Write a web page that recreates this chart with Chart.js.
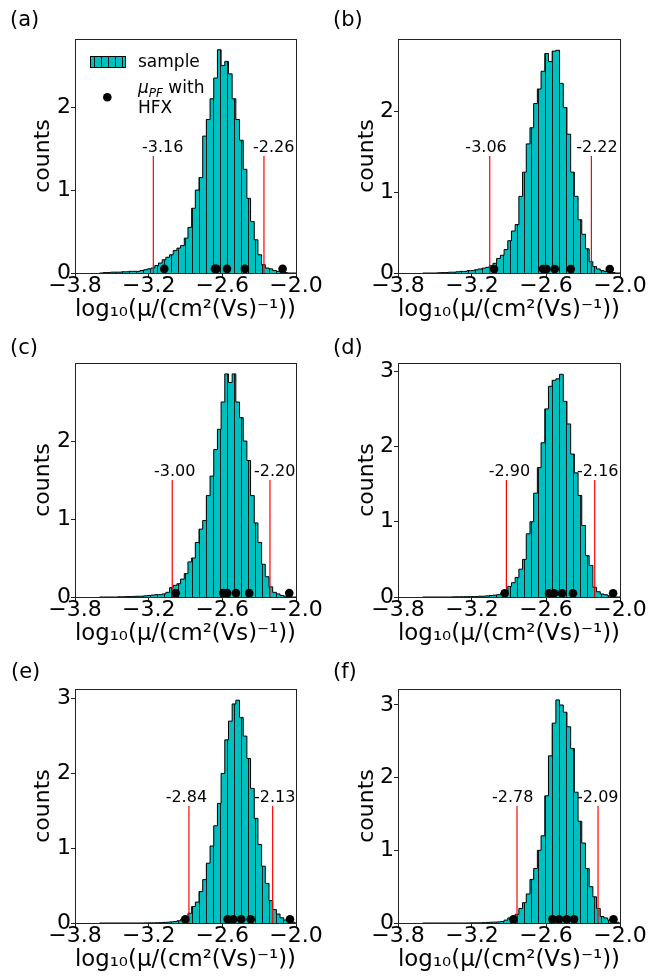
<!DOCTYPE html>
<html>
<head>
<meta charset="utf-8">
<script src="https://cdn.jsdelivr.net/npm/chart.js@4.4.0/dist/chart.umd.min.js"></script>
<style>
  body { margin: 0; background: #fff; }
  #page { position: relative; width: 649px; height: 977px; overflow: hidden; background: #fff; }
  #page canvas { position: absolute; }
  .tag { position: absolute; font-family: "DejaVu Sans"; font-size: 21px; line-height: 21px; color: #000; }
</style>
</head>
<body>
<div id="page"></div>
<script>
//left edges of the histogram bins (log10 mobility), the last value closes the last bin
var binEdges = [-3.60, -3.57, -3.54, -3.51, -3.48, -3.45, -3.42, -3.39, -3.36, -3.33,
                -3.30, -3.27, -3.24, -3.21, -3.18, -3.15, -3.12, -3.09, -3.06, -3.03,
                -3.00, -2.97, -2.94, -2.91, -2.88, -2.85, -2.82, -2.79, -2.76, -2.73,
                -2.70, -2.67, -2.64, -2.61, -2.58, -2.55, -2.52, -2.49, -2.46, -2.43,
                -2.40, -2.37, -2.34, -2.31, -2.28, -2.25, -2.22, -2.19, -2.16, -2.13,
                -2.10, -2.07, -2.04, -2.01, -1.98];

//histogram heights (density) for the six panels
var countsA = [0, .005, .005, .01, .01, .01, .015, .015, .02, .02,
               .02, .03, .04, .05, .06, .09, .12, .16, .19, .22,
               .27, .30, .33, .42, .55, .78, 1.00, 1.15, 1.65, 1.85,
               2.10, 2.35, 2.69, 2.50, 2.55, 2.40, 2.10, 1.85, 1.60, 1.25,
               .90, .62, .40, .22, .10, .06, .05, .03, .02, .01,
               .005, 0, 0, 0];
var countsB = [0, 0, 0, 0, .003, .005, .005, .01, .01, .015,
               .02, .02, .03, .03, .04, .05, .06, .07, .09, .12,
               .18, .22, .29, .40, .52, .60, .95, 1.25, 1.60, 1.80,
               2.10, 2.28, 2.50, 2.72, 2.62, 2.75, 2.76, 2.35, 2.05, 1.72,
               1.25, .95, .66, .48, .30, .14, .08, .05, .03, .02,
               .01, .005, 0, 0];
var countsC = [0, 0, 0, 0, 0, .003, .003, .005, .005, .008,
               .01, .01, .015, .02, .025, .03, .03, .04, .06, .12,
               .15, .17, .23, .30, .45, .50, .70, .87, .98, 1.30,
               1.55, 1.89, 2.15, 2.50, 2.86, 2.75, 2.86, 2.50, 2.30, 2.00,
               1.75, 1.30, .95, .70, .42, .26, .13, .06, .04, .02,
               .01, .005, 0, 0];
var countsD = [0, 0, 0, 0, 0, 0, 0, 0, .002, .003,
               .003, .004, .004, .005, .005, .01, .01, .015, .02, .025,
               .03, .045, .06, .14, .19, .26, .37, .50, .84, 1.00,
               1.38, 1.72, 2.05, 2.50, 2.80, 2.88, 2.90, 2.96, 2.60, 2.30,
               1.90, 1.65, 1.35, .95, .55, .42, .13, .07, .04, .03,
               .015, .005, 0, 0];
var countsE = [0, 0, 0, 0, 0, 0, 0, 0, 0, 0,
               0, 0, .001, .002, .002, .003, .005, .008, .01, .015,
               .02, .03, .05, .07, .13, .22, .28, .42, .58, .80,
               1.03, 1.30, 1.60, 2.00, 2.45, 2.70, 2.93, 2.98, 2.75, 2.50,
               2.20, 1.80, 1.40, 1.05, .76, .53, .30, .18, .12, .07,
               .04, .02, .01, 0];
var countsF = [0, 0, 0, 0, 0, 0, 0, 0, 0, 0,
               0, 0, .001, .002, .002, .003, .005, .008, .01, .012,
               .015, .02, .04, .07, .08, .12, .20, .28, .40, .60,
               .75, 1.00, 1.20, 1.75, 2.30, 2.75, 3.07, 3.00, 2.90, 2.70,
               2.40, 1.80, 1.40, 1.10, .75, .50, .36, .20, .09, .07,
               .04, .02, .01, 0];

//mu_PF with HFX, one list per panel (drawn as dots on the baseline)
var hfxA = [-3.073, -2.660, -2.648, -2.562, -2.416, -2.109];
var hfxB = [-3.021, -2.624, -2.596, -2.529, -2.399, -2.083];
var hfxC = [-2.980, -2.592, -2.560, -2.489, -2.381, -2.055];
var hfxD = [-2.935, -2.575, -2.535, -2.470, -2.381, -2.056];
var hfxE = [-2.902, -2.557, -2.511, -2.446, -2.369, -2.049];
var hfxF = [-2.864, -2.548, -2.494, -2.432, -2.373, -2.053];
var hfxLevel = 0.05;

//red interval lines and the numbers written above them
var redLo = [-3.162, -3.056, -3.008, -2.921, -2.872, -2.835];
var redHi = [-2.261, -2.232, -2.212, -2.205, -2.190, -2.178];
var textLo = ['-3.16', '-3.06', '-3.00', '-2.90', '-2.84', '-2.78'];
var textHi = ['-2.26', '-2.22', '-2.20', '-2.16', '-2.13', '-2.09'];

//axes
var xTicks = [-3.8, -3.2, -2.6, -2.0];
var yTicksLow = [0, 1, 2];
var yTicksHigh = [0, 1, 2, 3];
var yMax = [2.82, 2.90, 3.00, 3.11, 3.13, 3.22];
var panelNames = ['(a)', '(b)', '(c)', '(d)', '(e)', '(f)'];

var allCounts = [countsA, countsB, countsC, countsD, countsE, countsF];
var allHfx = [hfxA, hfxB, hfxC, hfxD, hfxE, hfxF];
var allYTicks = [yTicksLow, yTicksLow, yTicksLow, yTicksHigh, yTicksHigh, yTicksHigh];

//where the interval numbers are centred (x, data units)
var textLoAt = [-3.086, -3.086, -2.988, -2.897, -2.893, -2.870];
var textHiAt = [-2.182, -2.187, -2.174, -2.180, -2.174, -2.180];

//page placement of each panel
var canvasTop = [0, 0, 324, 324, 650, 650];
var tagPos = [[10, 9], [333, 9], [10, 337], [333, 337], [11, 661], [333, 661]];

Chart.defaults.font.family = 'DejaVu Sans';
Chart.defaults.color = '#000';

var page = document.getElementById('page');

//cyan with vertical hatch lines, like the '|' hatch of the sample bars
function makeHatch(ctx)
{
    var c = document.createElement('canvas');
    c.width = 7;
    c.height = 8;
    var g = c.getContext('2d');
    g.fillStyle = '#00bfbf';
    g.fillRect(0, 0, 7, 8);
    g.fillStyle = 'rgba(0,0,0,0.85)';
    g.fillRect(3, 0, 1, 8);
    return ctx.createPattern(c, 'repeat');
}

//step outline points for one histogram
function histPoints(counts)
{
    var pts = [{x: binEdges[0], y: 0}];
    for (var i = 0; i < counts.length; i++)
        pts.push({x: binEdges[i], y: counts[i]});
    pts.push({x: binEdges[counts.length], y: 0});
    return pts;
}

//frame, interval numbers and the legend of panel (a)
var extras = {
    id: 'extras',
    afterDatasetsDraw: function(chart, args, opts) {
        var ctx = chart.ctx, a = chart.chartArea, k = opts.k;
        var xs = chart.scales.x, ys = chart.scales.y;
        ctx.save();
        ctx.strokeStyle = '#222';
        ctx.lineWidth = 1;
        ctx.strokeRect(Math.round(a.left) + 0.5, Math.round(a.top) + 0.5,
                       Math.round(a.right - a.left), Math.round(a.bottom - a.top));

        var yTop = ys.getPixelForValue(yMax[k] / 2);
        ctx.fillStyle = '#000';
        ctx.font = '16px "DejaVu Sans"';
        ctx.textAlign = 'center';
        ctx.textBaseline = 'alphabetic';
        ctx.fillText(textLo[k], xs.getPixelForValue(textLoAt[k]), yTop - 4);
        ctx.fillText(textHi[k], xs.getPixelForValue(textHiAt[k]), yTop - 4);

        if (k === 0) {
            var lx = a.left + 15, ly = a.top + 17;
            ctx.fillStyle = opts.hatch;
            ctx.fillRect(lx, ly, 35, 11);
            ctx.strokeStyle = '#000';
            ctx.strokeRect(lx + 0.5, ly + 0.5, 35, 11);

            ctx.fillStyle = '#000';
            ctx.textAlign = 'left';
            ctx.font = '17px "DejaVu Sans"';
            ctx.fillText('sample', a.left + 63, a.top + 27.7);

            ctx.beginPath();
            ctx.arc(a.left + 32.3, a.top + 58.3, 4.3, 0, 2 * Math.PI);
            ctx.fill();

            var tx = a.left + 63;
            ctx.font = 'italic 17px "DejaVu Sans"';
            ctx.fillText('\u03bc', tx, a.top + 54.3);
            tx += ctx.measureText('\u03bc').width;
            ctx.font = 'italic 12px "DejaVu Sans"';
            ctx.fillText('PF', tx, a.top + 57.5);
            tx += ctx.measureText('PF').width;
            ctx.font = '17px "DejaVu Sans"';
            ctx.fillText(' with', tx, a.top + 54.3);
            ctx.fillText('HFX', a.left + 63, a.top + 74.3);
        }
        ctx.restore();
    }
};

function makePanel(k)
{
    var col = k % 2;
    var canvas = document.createElement('canvas');
    canvas.width = col ? 324 : 325;
    canvas.height = 325;
    canvas.style.left = (col ? 325 : 0) + 'px';
    canvas.style.top = canvasTop[k] + 'px';
    page.appendChild(canvas);

    var tag = document.createElement('div');
    tag.className = 'tag';
    tag.textContent = panelNames[k];
    tag.style.left = tagPos[k][0] + 'px';
    tag.style.top = tagPos[k][1] + 'px';
    page.appendChild(tag);

    var ctx = canvas.getContext('2d');
    var hatch = makeHatch(ctx);
    var yw = col ? 73 : 75;

    new Chart(ctx, {
        type: 'line',
        data: {
            datasets: [
                {
                    label: 'sample',
                    data: histPoints(allCounts[k]),
                    stepped: true,
                    fill: 'origin',
                    backgroundColor: hatch,
                    borderColor: '#000',
                    borderWidth: 1,
                    pointRadius: 0,
                    order: 3
                },
                {
                    data: [{x: redLo[k], y: 0}, {x: redLo[k], y: yMax[k] / 2}],
                    borderColor: '#ff0000',
                    borderWidth: 1.2,
                    pointRadius: 0,
                    fill: false,
                    order: 2
                },
                {
                    data: [{x: redHi[k], y: 0}, {x: redHi[k], y: yMax[k] / 2}],
                    borderColor: '#ff0000',
                    borderWidth: 1.2,
                    pointRadius: 0,
                    fill: false,
                    order: 2
                },
                {
                    type: 'scatter',
                    label: 'mu_PF with HFX',
                    data: allHfx[k].map(function(v){ return {x: v, y: hfxLevel}; }),
                    showLine: false,
                    pointRadius: 4.3,
                    pointBackgroundColor: '#000',
                    pointBorderWidth: 0,
                    clip: false,
                    order: 1
                }
            ]
        },
        options: {
            responsive: false,
            animation: false,
            devicePixelRatio: 1,
            layout: { padding: { top: 39, right: 29, bottom: 0, left: 0 } },
            plugins: {
                legend: { display: false },
                tooltip: { enabled: false },
                extras: { k: k, hatch: hatch }
            },
            scales: {
                x: {
                    type: 'linear',
                    min: -3.8,
                    max: -2.0,
                    afterFit: function(s){ s.height = 52; },
                    afterBuildTicks: function(s){ s.ticks = xTicks.map(function(v){ return {value: v}; }); },
                    grid: { drawOnChartArea: false, drawTicks: true, tickLength: 4, color: '#222' },
                    border: { display: false },
                    ticks: {
                        autoSkip: false,
                        maxRotation: 0,
                        padding: -4,
                        font: { size: 22 },
                        callback: function(v){ return (v < 0 ? '\u2212' : '') + Math.abs(v).toFixed(1); }
                    },
                    title: {
                        display: true,
                        text: 'log\u2081\u2080(\u03bc/(cm\u00b2(Vs)\u207b\u00b9))',
                        font: { size: 23 },
                        padding: { top: 0, bottom: 1.2 }
                    }
                },
                y: {
                    min: 0,
                    max: yMax[k],
                    afterFit: function(s){ s.width = yw; },
                    afterBuildTicks: function(s){ s.ticks = allYTicks[k].map(function(v){ return {value: v}; }); },
                    grid: { drawOnChartArea: false, drawTicks: true, tickLength: 4, color: '#222' },
                    border: { display: false },
                    ticks: {
                        padding: 0,
                        font: { size: 22 },
                        callback: function(v){ return String(v); }
                    },
                    title: {
                        display: true,
                        text: 'counts',
                        font: { size: 22 },
                        padding: { top: col ? 29 : 30, bottom: 0 }
                    }
                }
            }
        },
        plugins: [extras]
    });
}

for (var k = 0; k < 6; k++)
    makePanel(k);
</script>
</body>
</html>
